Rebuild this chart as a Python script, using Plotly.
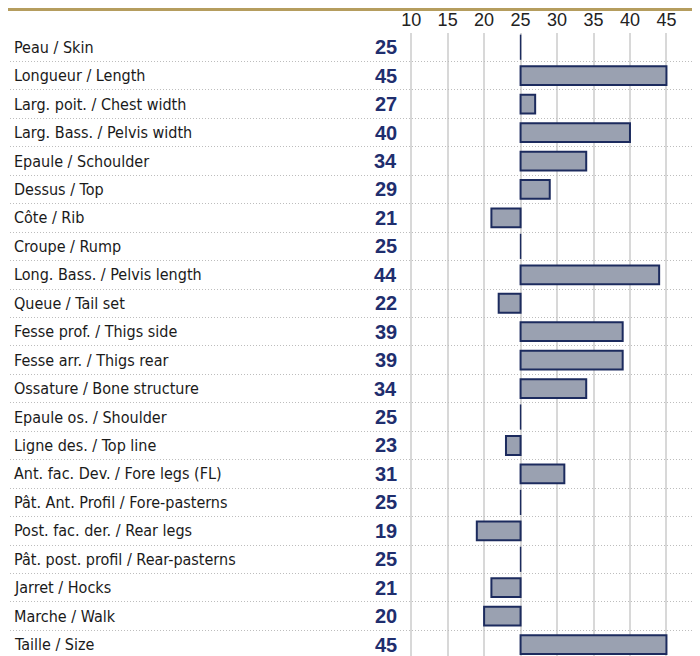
import plotly.graph_objects as go

labels = [
    "Peau / Skin", "Longueur / Length", "Larg. poit. / Chest width",
    "Larg. Bass. / Pelvis width", "Epaule / Schoulder", "Dessus / Top",
    "Côte / Rib", "Croupe / Rump", "Long. Bass. / Pelvis length",
    "Queue / Tail set", "Fesse prof. / Thigs side", "Fesse arr. / Thigs rear",
    "Ossature / Bone structure", "Epaule os. / Shoulder", "Ligne des. / Top line",
    "Ant. fac. Dev. / Fore legs (FL)", "Pât. Ant. Profil / Fore-pasterns",
    "Post. fac. der. / Rear legs", "Pât. post. profil / Rear-pasterns",
    "Jarret / Hocks", "Marche / Walk", "Taille / Size",
]
values = [25, 45, 27, 40, 34, 29, 21, 25, 44, 22, 39, 39, 34, 25, 23, 31, 25, 19, 25, 21, 20, 45]
baseline = 25
tick_values = [10, 15, 20, 25, 30, 35, 40, 45]

rows = list(range(len(labels)))
bar_rows = [r for r, v in zip(rows, values) if v != baseline]
bar_len = [values[r] - baseline for r in bar_rows]
zero_rows = [r for r, v in zip(rows, values) if v == baseline]

NAVY = "#1c2b5e"
fig = go.Figure()
fig.add_trace(go.Bar(
    y=bar_rows, x=bar_len, base=baseline, orientation="h", width=0.66,
    marker=dict(color="#9aa1b1", line=dict(color=NAVY, width=2)),
    hoverinfo="skip", showlegend=False,
))
fig.add_trace(go.Scatter(
    y=zero_rows, x=[baseline] * len(zero_rows), mode="markers",
    marker=dict(symbol="line-ns", size=18, line=dict(color=NAVY, width=1.5)),
    hoverinfo="skip", showlegend=False,
))

annotations = []
for r, (lab, v) in enumerate(zip(labels, values)):
    annotations.append(dict(
        x=0.003, xref="paper", y=r, yref="y", text=lab, showarrow=False,
        xanchor="left", yanchor="middle",
        font=dict(family="Liberation Sans Narrow, DejaVu Sans Condensed, Arial Narrow, sans-serif",
                  size=16, color="#1a1a1a"),
    ))
    annotations.append(dict(
        x=8.3, xref="x", y=r, yref="y", text=f"<b>{v}</b>", showarrow=False,
        xanchor="right", yanchor="middle",
        font=dict(family="Liberation Sans, Arial, sans-serif", size=20, color="#1f2e6e"),
    ))

# the page body adds an 8px offset; figure is sized/margined to compensate
W, H = 692, 648
top = 25
plot_h = H - top
fig.update_layout(
    width=W, height=H,
    margin=dict(l=2, r=0, t=top, b=0, autoexpand=False),
    paper_bgcolor="white", plot_bgcolor="white",
    annotations=annotations,
    shapes=[dict(type="rect", xref="paper", yref="paper", x0=-0.02, x1=1.02,
                 y0=1 + (top - 3) / plot_h, y1=1 + (top + 1) / plot_h,
                 fillcolor="#b59d5e", line=dict(width=0), layer="above")],
    xaxis=dict(
        range=[-45.0, 49.6], side="top", tickvals=tick_values,
        ticktext=[str(t) for t in tick_values], automargin=False,
        showgrid=True, gridcolor="#d8d8d8", gridwidth=2,
        zeroline=False, showline=False, ticks="",
        tickfont=dict(family="Liberation Sans, Arial, sans-serif", size=18, color="#222222"),
        ticklabelstandoff=2,
    ),
    yaxis=dict(
        range=[21.4, -0.5], tickvals=[r - 0.5 for r in rows] + [len(rows) - 0.5],
        showticklabels=False, showgrid=True, gridcolor="#bdbdbd", gridwidth=1,
        griddash="1px,2px", zeroline=False, showline=False, ticks="", automargin=False,
    ),
)

fig.write_html("out.html")
